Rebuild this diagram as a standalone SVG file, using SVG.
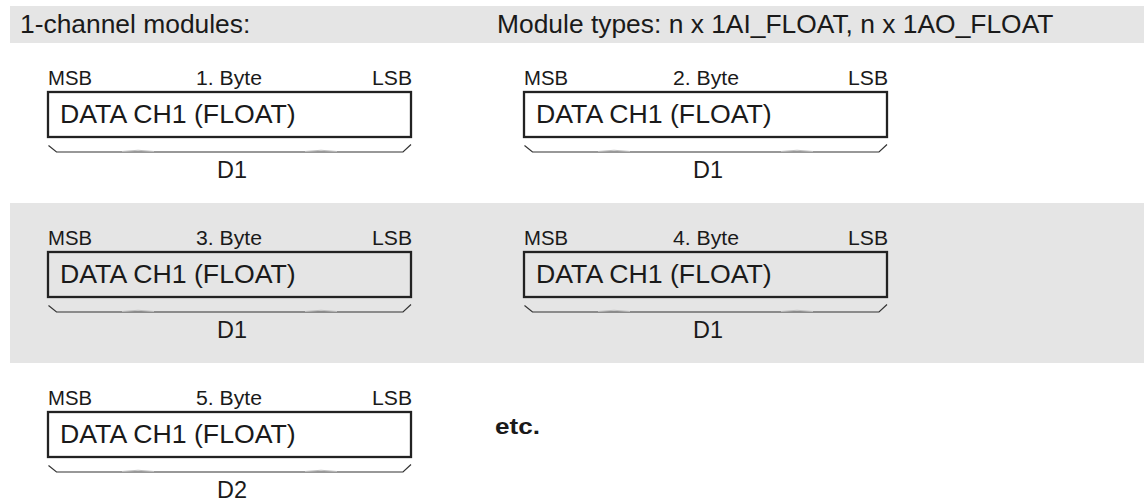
<svg xmlns="http://www.w3.org/2000/svg" width="1144" height="501" viewBox="0 0 1144 501">
<style>
.band{fill:#e5e5e5}
.hdr{font-family:"Liberation Sans",Arial,sans-serif;font-size:26.4px;fill:#1a1a1a}
.sm{font-family:"Liberation Sans",Arial,sans-serif;font-size:19.5px;fill:#1a1a1a}
.data{font-family:"Liberation Sans",Arial,sans-serif;font-size:26.7px;fill:#1a1a1a}
.d{font-family:"Liberation Sans",Arial,sans-serif;font-size:24px;fill:#1a1a1a}
.etc{font-family:"Liberation Sans",Arial,sans-serif;font-size:22px;font-weight:bold;fill:#1a1a1a}
.box{fill:none;stroke:#222;stroke-width:2.3}
.brace{fill:none;stroke:#333;stroke-width:1.2}
.tip{fill:none;stroke:#c0c0c0;stroke-width:1}
</style>
<defs>
<g id="cell">
<rect class="box" x="0" y="0" width="363" height="45"/>
<path class="brace" d="M0.5,53.5 L8.5,60 L355,60 L363,52.5"/>
<path class="tip" d="M74,59.5 Q90,57 106,59.5 M257,59.5 Q273,57 289,59.5"/>
</g>
</defs>
<rect class="band" x="10" y="6" width="1134" height="37"/>
<rect class="band" x="10" y="203" width="1134" height="160"/>
<text class="hdr" x="20" y="33">1-channel modules:</text>
<text class="hdr" x="497" y="33">Module types: n x 1AI_FLOAT, n x 1AO_FLOAT</text>
<g id="byte1">
<use href="#cell" x="48" y="92"/>
<text class="sm" x="48" y="85" textLength="44" lengthAdjust="spacingAndGlyphs">MSB</text>
<text class="sm" x="229" y="85" text-anchor="middle" textLength="66" lengthAdjust="spacingAndGlyphs">1. Byte</text>
<text class="sm" x="412" y="85" text-anchor="end" textLength="40" lengthAdjust="spacingAndGlyphs">LSB</text>
<text class="data" x="60" y="123">DATA CH1 (FLOAT)</text>
<text class="d" x="232" y="178" text-anchor="middle" textLength="30" lengthAdjust="spacingAndGlyphs">D1</text>
</g>
<g id="byte2">
<use href="#cell" x="524" y="92"/>
<text class="sm" x="524" y="85" textLength="44" lengthAdjust="spacingAndGlyphs">MSB</text>
<text class="sm" x="706" y="85" text-anchor="middle" textLength="66" lengthAdjust="spacingAndGlyphs">2. Byte</text>
<text class="sm" x="888" y="85" text-anchor="end" textLength="40" lengthAdjust="spacingAndGlyphs">LSB</text>
<text class="data" x="536" y="123">DATA CH1 (FLOAT)</text>
<text class="d" x="708" y="178" text-anchor="middle" textLength="30" lengthAdjust="spacingAndGlyphs">D1</text>
</g>
<g id="byte3">
<use href="#cell" x="48" y="252"/>
<text class="sm" x="48" y="245" textLength="44" lengthAdjust="spacingAndGlyphs">MSB</text>
<text class="sm" x="229" y="245" text-anchor="middle" textLength="66" lengthAdjust="spacingAndGlyphs">3. Byte</text>
<text class="sm" x="412" y="245" text-anchor="end" textLength="40" lengthAdjust="spacingAndGlyphs">LSB</text>
<text class="data" x="60" y="283">DATA CH1 (FLOAT)</text>
<text class="d" x="232" y="338" text-anchor="middle" textLength="30" lengthAdjust="spacingAndGlyphs">D1</text>
</g>
<g id="byte4">
<use href="#cell" x="524" y="252"/>
<text class="sm" x="524" y="245" textLength="44" lengthAdjust="spacingAndGlyphs">MSB</text>
<text class="sm" x="706" y="245" text-anchor="middle" textLength="66" lengthAdjust="spacingAndGlyphs">4. Byte</text>
<text class="sm" x="888" y="245" text-anchor="end" textLength="40" lengthAdjust="spacingAndGlyphs">LSB</text>
<text class="data" x="536" y="283">DATA CH1 (FLOAT)</text>
<text class="d" x="708" y="338" text-anchor="middle" textLength="30" lengthAdjust="spacingAndGlyphs">D1</text>
</g>
<g id="byte5">
<use href="#cell" x="48" y="412"/>
<text class="sm" x="48" y="405" textLength="44" lengthAdjust="spacingAndGlyphs">MSB</text>
<text class="sm" x="229" y="405" text-anchor="middle" textLength="66" lengthAdjust="spacingAndGlyphs">5. Byte</text>
<text class="sm" x="412" y="405" text-anchor="end" textLength="40" lengthAdjust="spacingAndGlyphs">LSB</text>
<text class="data" x="60" y="443">DATA CH1 (FLOAT)</text>
<text class="d" x="232" y="498" text-anchor="middle" textLength="30" lengthAdjust="spacingAndGlyphs">D2</text>
</g>
<g id="connectors"></g>
<text class="etc" x="495" y="434" textLength="45" lengthAdjust="spacingAndGlyphs">etc.</text>
</svg>
